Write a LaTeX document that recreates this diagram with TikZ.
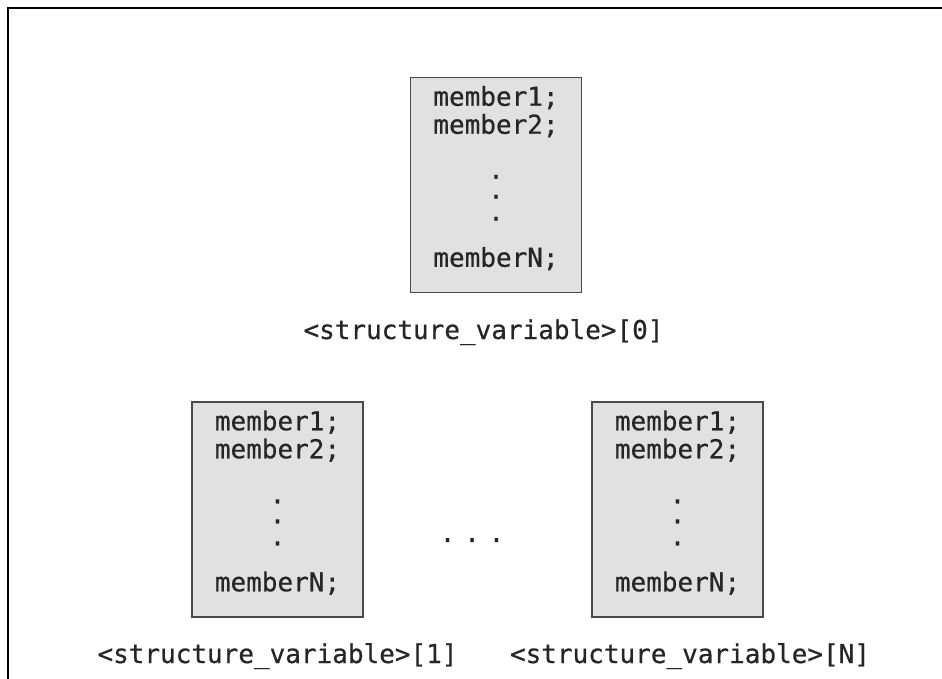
\documentclass[tikz,border=0pt]{standalone}
\usepackage{fontspec}
\newfontfamily\codefont[FakeBold=0.6]{DejaVu Sans Mono}
\usetikzlibrary{calc}
\definecolor{boxfill}{HTML}{E1E1E1}
\definecolor{boxline}{HTML}{4A4A4A}
\definecolor{txt}{HTML}{262626}
\tikzset{
  membox/.style={draw=boxline, line width=1.5pt, fill=boxfill,
    minimum width=171pt, minimum height=215pt, inner sep=0pt},
  code/.style={font=\codefont\fontsize{26}{30}\selectfont, text=txt,
    inner sep=0pt, anchor=base},
  dotchar/.style={code, text height=4pt, text depth=0pt},
  frameline/.style={line width=2pt, black},
}
\begin{document}
\begin{tikzpicture}[x=1pt,y=-1pt]
\useasboundingbox (0,0) rectangle (942,679);
\coordinate (ftop) at (942,8);
\coordinate (fcorner) at (8,8);
\coordinate (fbot) at (8,679);
\draw[frameline] (ftop) -- (fcorner) -- (fbot);

% boxes
\node[membox] (b0) at (496,185) {};
\node[membox] (b1) at (277.5,509.5) {};
\node[membox] (bN) at (677.5,509.5) {};

\foreach \b in {b0,b1,bN}{
  \node[code, text depth=0pt] (\b m1) at ($(\b.north)+(0,29)$) {member1;};
  \node[code, text depth=0pt] (\b m2) at ($(\b.north)+(0,57)$) {member2;};
  \node[dotchar] (\b d1) at ($(\b.north)+(0,102)$) {.};
  \node[dotchar] (\b d2) at ($(\b.north)+(0,122)$) {.};
  \node[dotchar] (\b d3) at ($(\b.north)+(0,144)$) {.};
  \node[code] (\b mN) at ($(\b.north)+(0,190)$) {memberN;};
}

% labels
\node[code] (l0) at (483.5,339) {<structure\_variable>[0]};
\node[code] (l1) at (277.5,663) {<structure\_variable>[1]};
\node[code] (lN) at (690,663) {<structure\_variable>[N]};

% ellipsis between lower boxes
\node[dotchar] (mid) at (472,542) {.\hspace{8.9pt}.\hspace{8.9pt}.};
\end{tikzpicture}
\end{document}
